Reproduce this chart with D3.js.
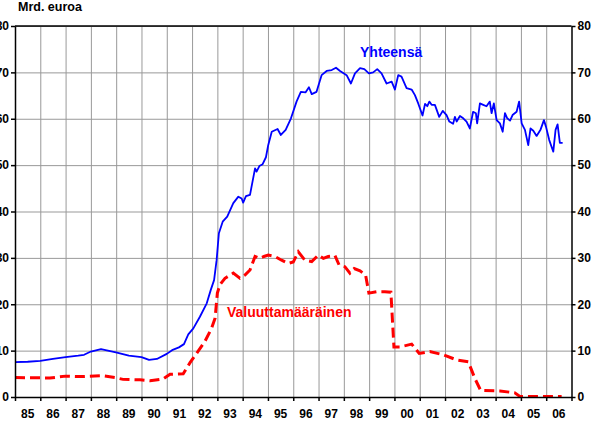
<!DOCTYPE html>
<html>
<head>
<meta charset="UTF-8">
<title>Mrd. euroa</title>
<script src="https://cdnjs.cloudflare.com/ajax/libs/d3/7.9.0/d3.min.js"></script>
<style>
    body { margin: 0; background: #fff; }
    svg { display: block; font-family: "Liberation Sans", Arial, sans-serif; }
    .axis text { font-size: 12px; font-weight: bold; fill: #000; }
    .axis path, .axis line { stroke: #000; stroke-width: 1.5; }
    .grid line { stroke: #999; stroke-width: 1; }
    .grid path { display: none; }
</style>
</head>
<body>
<div id="chart"></div>
<script>
// ---- data ----
const yearLabels = ["85","86","87","88","89","90","91","92","93","94","95","96","97","98","99","00","01","02","03","04","05","06"];
const yTicks = [0, 10, 20, 30, 40, 50, 60, 70, 80];

// total (Yhteensä), decimal years
const totalDates = [1985.00,1985.50,1986.00,1986.50,1987.00,1987.50,1987.73,1988.00,1988.40,1988.99,1989.50,1990.00,1990.30,1990.61,1991.00,1991.21,1991.48,1991.68,1991.85,1992.05,1992.31,1992.58,1992.74,1992.87,1992.97,1993.06,1993.21,1993.39,1993.63,1993.83,1993.96,1994.02,1994.13,1994.29,1994.49,1994.55,1994.66,1994.79,1994.92,1995.01,1995.15,1995.38,1995.51,1995.70,1995.91,1996.13,1996.30,1996.49,1996.62,1996.73,1996.92,1997.12,1997.32,1997.52,1997.69,1997.85,1998.11,1998.28,1998.44,1998.64,1998.81,1998.99,1999.16,1999.32,1999.49,1999.69,1999.89,2000.02,2000.15,2000.28,2000.48,2000.68,2000.81,2000.94,2001.11,2001.21,2001.30,2001.38,2001.47,2001.60,2001.77,2001.91,2002.06,2002.17,2002.32,2002.39,2002.46,2002.59,2002.72,2002.85,2002.98,2003.11,2003.22,2003.27,2003.38,2003.51,2003.64,2003.77,2003.84,2003.93,2004.04,2004.17,2004.28,2004.37,2004.46,2004.57,2004.67,2004.83,2004.93,2005.03,2005.16,2005.29,2005.38,2005.49,2005.62,2005.78,2005.91,2005.99,2006.12,2006.28,2006.37,2006.45,2006.54,2006.65];
const totalValues = [7.5,7.6,7.8,8.2,8.6,8.9,9.1,9.8,10.3,9.6,8.9,8.6,8.0,8.2,9.3,10.1,10.7,11.4,13.5,14.8,17.3,20.2,23.1,25.2,29.5,35.3,37.8,38.9,41.8,43.2,42.8,41.9,43.3,43.6,49.3,48.6,49.8,50.2,51.7,54.3,57.2,57.8,56.5,57.6,60.1,63.7,65.8,65.7,66.8,65.3,65.8,69.4,70.3,70.5,71.0,70.3,69.4,67.6,69.8,70.9,70.7,69.8,70.0,70.7,69.8,67.6,68.0,66.3,69.4,69.1,66.6,66.3,65.1,63.3,60.7,63.2,62.7,63.7,63.0,63.0,60.4,61.7,60.8,59.4,58.9,60.4,59.4,60.6,60.1,59.4,57.9,61.5,61.2,59.0,63.3,63.0,62.7,63.7,61.2,63.3,59.7,59.0,57.2,61.2,60.1,59.6,60.8,61.5,63.7,59.0,57.6,54.3,57.9,57.4,56.3,57.7,59.7,58.3,55.4,52.9,57.6,58.8,54.8,54.8];

// foreign currency (Valuuttamääräinen)
const foreignDates = [1985.00,1986.38,1987.00,1987.57,1988.43,1988.95,1989.27,1989.94,1990.34,1990.85,1991.13,1991.65,1991.92,1992.18,1992.51,1992.77,1992.91,1993.00,1993.10,1993.30,1993.63,1993.89,1994.09,1994.29,1994.49,1994.66,1994.84,1995.01,1995.28,1995.54,1995.80,1996.00,1996.20,1996.46,1996.73,1996.99,1997.19,1997.38,1997.65,1997.81,1998.04,1998.24,1998.41,1998.64,1998.86,1998.99,1999.30,1999.62,1999.86,1999.98,2000.22,2000.68,2000.98,2001.40,2001.93,2002.46,2002.92,2003.18,2003.41,2004.17,2004.76,2004.96,2006.61];
const foreignValues = [4.2,4.1,4.5,4.4,4.6,4.2,3.8,3.7,3.5,3.9,4.9,5.0,7.4,9.4,12.0,14.8,17.0,22.4,24.2,25.6,26.7,25.6,26.3,27.4,30.3,29.9,30.3,30.6,30.3,29.5,28.8,29.1,31.3,29.5,29.2,30.6,29.9,30.3,30.5,28.5,28.1,26.7,27.7,27.2,26.3,22.4,22.7,22.7,22.6,10.8,10.8,11.4,9.4,9.8,9.1,8.0,7.6,4.0,1.4,1.3,0.9,0.1,0.1];

// ---- layout ----
const W = 596, H = 436;
const plotL = 15, plotR = 571.5, plotT = 26, plotB = 397;

const svg = d3.select("#chart").append("svg")
    .attr("width", W).attr("height", H);

const x = d3.scaleLinear().domain([1985, 2007]).range([plotL, plotR]);
const y = d3.scaleLinear().domain([0, 80]).range([plotB, plotT]);

const years = d3.range(1985, 2008);

// grid
svg.append("g").attr("class", "grid")
    .attr("transform", `translate(0,${plotB})`)
    .call(d3.axisBottom(x).tickValues(years.slice(1, -1)).tickSize(-(plotB - plotT)).tickFormat(""));
svg.append("g").attr("class", "grid")
    .attr("transform", `translate(${plotL},0)`)
    .call(d3.axisLeft(y).tickValues(yTicks.slice(1)).tickSize(-(plotR - plotL)).tickFormat(""));

// top border
svg.append("line")
    .attr("x1", x(1985)).attr("x2", x(2007))
    .attr("y1", y(80)).attr("y2", y(80))
    .attr("stroke", "#000").attr("stroke-width", 1.5);

// lines
const line = (dates, vals) => d3.line()
    .x((d, i) => x(dates[i]))
    .y(d => y(d))(vals);

svg.append("path")
    .attr("d", line(foreignDates, foreignValues))
    .attr("fill", "none")
    .attr("stroke", "#ff0000")
    .attr("stroke-width", 3)
    .attr("stroke-dasharray", "10,5");

svg.append("path")
    .attr("d", line(totalDates, totalValues))
    .attr("fill", "none")
    .attr("stroke", "#0000ff")
    .attr("stroke-width", 1.8)
    .attr("stroke-linejoin", "round");

// axes
svg.append("g").attr("class", "axis")
    .attr("transform", `translate(${plotL},0)`)
    .call(d3.axisLeft(y).tickValues(yTicks).tickSize(4).tickPadding(2).tickSizeOuter(0));

svg.append("g").attr("class", "axis")
    .attr("transform", `translate(${plotR},0)`)
    .call(d3.axisRight(y).tickValues(yTicks).tickSize(4).tickPadding(2).tickSizeOuter(0));

svg.append("g").attr("class", "axis")
    .attr("transform", `translate(0,${plotB})`)
    .call(d3.axisBottom(x).tickValues(years).tickSize(4).tickFormat("").tickSizeOuter(0));

svg.append("g").attr("class", "axis")
    .selectAll("text")
    .data(yearLabels)
    .join("text")
    .attr("x", (d, i) => x(1985 + i + 0.5))
    .attr("y", 418)
    .attr("text-anchor", "middle")
    .text(d => d);

// titles and labels
svg.append("text")
    .attr("x", 18).attr("y", 11)
    .style("font-size", "12.5px").style("font-weight", "bold")
    .text("Mrd. euroa");

svg.append("text")
    .attr("x", 360).attr("y", 57)
    .style("font-size", "14px").style("font-weight", "bold")
    .attr("fill", "#0000ff")
    .text("Yhteensä");

svg.append("text")
    .attr("x", 227).attr("y", 317)
    .style("font-size", "14px").style("font-weight", "bold")
    .attr("fill", "#ff0000")
    .text("Valuuttamääräinen");
</script>
</body>
</html>
